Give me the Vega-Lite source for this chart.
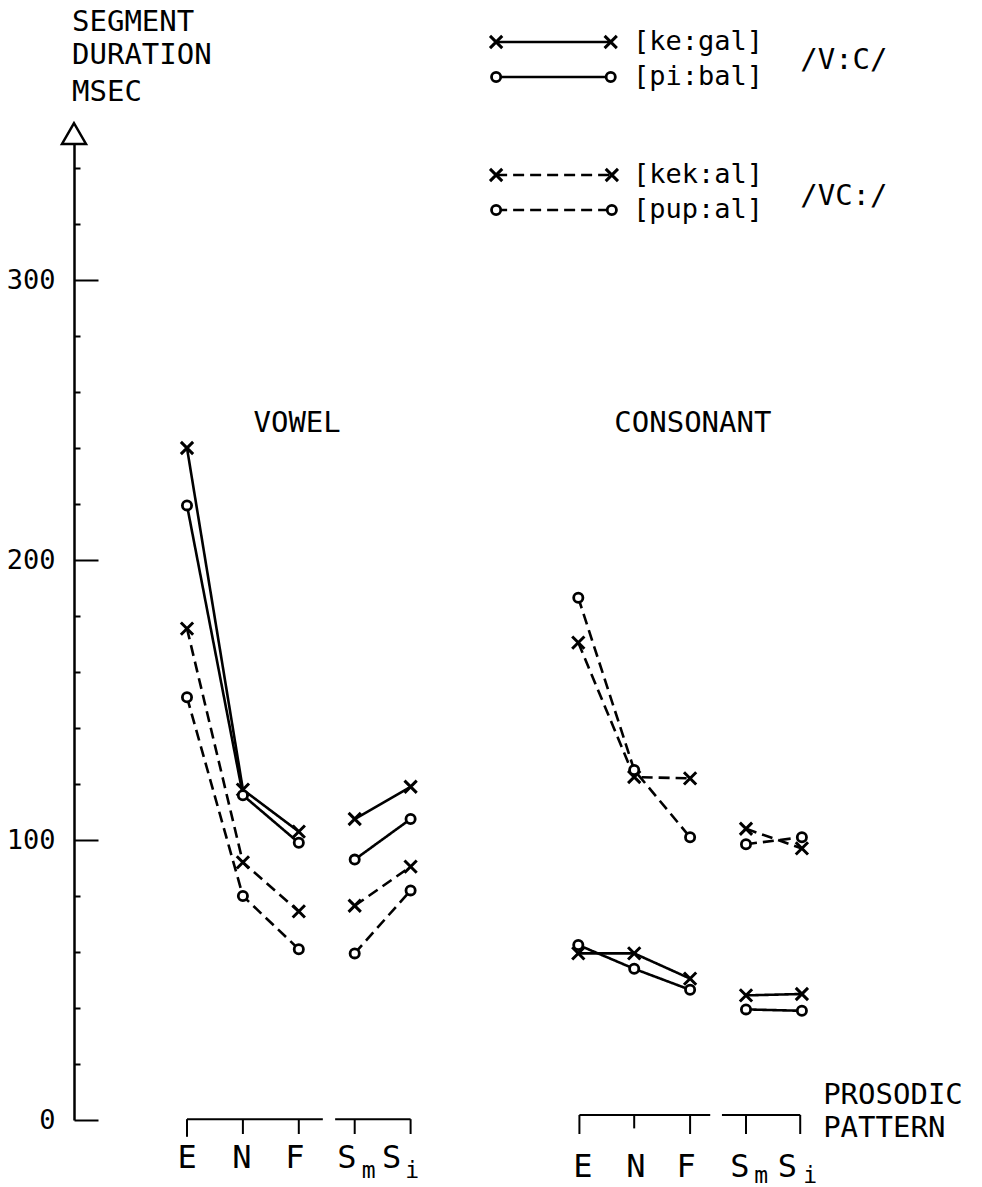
{
  "$schema": "https://vega.github.io/schema/vega-lite/v6.json",
  "width": 908,
  "height": 980,
  "autosize": "none",
  "padding": {"left": 74, "top": 140, "right": 0, "bottom": 67},
  "background": "white",
  "config": {"view": {"stroke": null}, "font": "DejaVu Sans Mono"},
  "datasets": {
    "lines": [
      {"word": "ke:gal", "seg": "V1", "pos": 1, "ms": 240},
      {"word": "ke:gal", "seg": "V1", "pos": 2, "ms": 118},
      {"word": "ke:gal", "seg": "V1", "pos": 3, "ms": 103},
      {"word": "ke:gal", "seg": "V2", "pos": 4, "ms": 107.5},
      {"word": "ke:gal", "seg": "V2", "pos": 5, "ms": 119},
      {"word": "pi:bal", "seg": "V1", "pos": 1, "ms": 219.5},
      {"word": "pi:bal", "seg": "V1", "pos": 2, "ms": 116},
      {"word": "pi:bal", "seg": "V1", "pos": 3, "ms": 99},
      {"word": "pi:bal", "seg": "V2", "pos": 4, "ms": 93},
      {"word": "pi:bal", "seg": "V2", "pos": 5, "ms": 107.5},
      {"word": "kek:al", "seg": "V1", "pos": 1, "ms": 175.5},
      {"word": "kek:al", "seg": "V1", "pos": 2, "ms": 92},
      {"word": "kek:al", "seg": "V1", "pos": 3, "ms": 74.5},
      {"word": "kek:al", "seg": "V2", "pos": 4, "ms": 76.5},
      {"word": "kek:al", "seg": "V2", "pos": 5, "ms": 90.5},
      {"word": "pup:al", "seg": "V1", "pos": 1, "ms": 151},
      {"word": "pup:al", "seg": "V1", "pos": 2, "ms": 80},
      {"word": "pup:al", "seg": "V1", "pos": 3, "ms": 61},
      {"word": "pup:al", "seg": "V2", "pos": 4, "ms": 59.5},
      {"word": "pup:al", "seg": "V2", "pos": 5, "ms": 82},
      {"word": "ke:gal", "seg": "C1", "pos": 8, "ms": 59.5},
      {"word": "ke:gal", "seg": "C1", "pos": 9, "ms": 59.5},
      {"word": "ke:gal", "seg": "C1", "pos": 10, "ms": 50.5},
      {"word": "ke:gal", "seg": "C2", "pos": 11, "ms": 44.5},
      {"word": "ke:gal", "seg": "C2", "pos": 12, "ms": 45},
      {"word": "pi:bal", "seg": "C1", "pos": 8, "ms": 62.5},
      {"word": "pi:bal", "seg": "C1", "pos": 9, "ms": 54},
      {"word": "pi:bal", "seg": "C1", "pos": 10, "ms": 46.5},
      {"word": "pi:bal", "seg": "C2", "pos": 11, "ms": 39.5},
      {"word": "pi:bal", "seg": "C2", "pos": 12, "ms": 39},
      {"word": "kek:al", "seg": "C1", "pos": 8, "ms": 170.5},
      {"word": "kek:al", "seg": "C1", "pos": 9, "ms": 122.5},
      {"word": "kek:al", "seg": "C1", "pos": 10, "ms": 122},
      {"word": "kek:al", "seg": "C2", "pos": 11, "ms": 104},
      {"word": "kek:al", "seg": "C2", "pos": 12, "ms": 97},
      {"word": "pup:al", "seg": "C1", "pos": 8, "ms": 186.5},
      {"word": "pup:al", "seg": "C1", "pos": 9, "ms": 125},
      {"word": "pup:al", "seg": "C1", "pos": 10, "ms": 101},
      {"word": "pup:al", "seg": "C2", "pos": 11, "ms": 98.5},
      {"word": "pup:al", "seg": "C2", "pos": 12, "ms": 101},
      {"word": "ke:gal", "seg": "L", "pos": 6.53, "ms": 385},
      {"word": "ke:gal", "seg": "L", "pos": 8.58, "ms": 385},
      {"word": "pi:bal", "seg": "L", "pos": 6.53, "ms": 372.5},
      {"word": "pi:bal", "seg": "L", "pos": 8.58, "ms": 372.5},
      {"word": "kek:al", "seg": "L", "pos": 6.53, "ms": 337.5},
      {"word": "kek:al", "seg": "L", "pos": 8.6, "ms": 337.5},
      {"word": "pup:al", "seg": "L", "pos": 6.53, "ms": 325},
      {"word": "pup:al", "seg": "L", "pos": 8.6, "ms": 325}
    ],
    "arrow": [{"pos": -1.0215, "ms": 352.3}],
    "brackets": [
      {"pos": 1.0, "pos2": 3.43, "ms": 0.3},
      {"pos": 3.65, "pos2": 5.0, "ms": 0.3},
      {"pos": 8.02, "pos2": 10.36, "ms": 1.8},
      {"pos": 10.57, "pos2": 11.97, "ms": 1.8}
    ],
    "bticks": [
      {"pos": 1, "ms": 0.3, "ms2": -6},
      {"pos": 2, "ms": 0.3, "ms2": -5},
      {"pos": 3, "ms": 0.3, "ms2": -5},
      {"pos": 4, "ms": 0.3, "ms2": -5},
      {"pos": 5, "ms": 0.3, "ms2": -5},
      {"pos": 8.02, "ms": 1.8, "ms2": -5},
      {"pos": 9, "ms": 1.8, "ms2": -3},
      {"pos": 10, "ms": 1.8, "ms2": -5},
      {"pos": 11, "ms": 1.8, "ms2": -5},
      {"pos": 11.97, "ms": 1.8, "ms2": -5}
    ],
    "ticklabels": [
      {"text": "E", "pos": 1.0, "ms": -13.6},
      {"text": "N", "pos": 1.98, "ms": -13.6},
      {"text": "F", "pos": 2.93, "ms": -13.6},
      {"text": "S", "pos": 3.86, "ms": -13.6},
      {"text": "S", "pos": 4.66, "ms": -13.6},
      {"text": "E", "pos": 8.08, "ms": -16.8},
      {"text": "N", "pos": 9.03, "ms": -16.8},
      {"text": "F", "pos": 9.93, "ms": -16.8},
      {"text": "S", "pos": 10.89, "ms": -16.8},
      {"text": "S", "pos": 11.74, "ms": -16.8}
    ],
    "subs": [
      {"text": "m", "pos": 4.25, "ms": -18.2},
      {"text": "i", "pos": 5.03, "ms": -18.2},
      {"text": "m", "pos": 11.27, "ms": -20},
      {"text": "i", "pos": 12.15, "ms": -20}
    ],
    "lefttext": [
      {"text": "SEGMENT", "pos": -1.057, "ms": 392.3},
      {"text": "DURATION", "pos": -1.057, "ms": 380.2},
      {"text": "MSEC", "pos": -1.057, "ms": 367.3},
      {"text": "PROSODIC", "pos": 12.38, "ms": 8.9},
      {"text": "PATTERN", "pos": 12.38, "ms": -2.9},
      {"text": "/V:C/", "pos": 11.97, "ms": 378.6},
      {"text": "/VC:/", "pos": 11.97, "ms": 330}
    ],
    "legendtext": [
      {"text": "[ke:gal]", "pos": 8.98, "ms": 385},
      {"text": "[pi:bal]", "pos": 8.98, "ms": 372.5},
      {"text": "[kek:al]", "pos": 8.98, "ms": 337.5},
      {"text": "[pup:al]", "pos": 8.98, "ms": 325}
    ],
    "groups": [
      {"text": "VOWEL", "pos": 2.97, "ms": 249},
      {"text": "CONSONANT", "pos": 10.05, "ms": 249}
    ]
  },
  "layer": [
    {
      "data": {"name": "lines"},
      "mark": {"type": "line", "color": "black", "strokeWidth": 2.6},
      "encoding": {
        "x": {"field": "pos", "type": "quantitative", "scale": {"domain": [-1.0215, 15.222], "nice": false, "zero": false}, "axis": null},
        "y": {
          "field": "ms", "type": "quantitative",
          "scale": {"domain": [0, 350], "nice": false, "zero": false},
          "axis": {
            "title": null, "grid": false,
            "values": [0, 20, 40, 60, 80, 100, 120, 140, 160, 180, 200, 220, 240, 260, 280, 300, 320, 340],
            "domainColor": "black", "domainWidth": 2.5,
            "tickColor": "black", "tickWidth": 2,
            "tickSize": {"condition": {"test": "datum.value % 100 === 0", "value": -24}, "value": -6},
            "labelExpr": "datum.value % 100 === 0 ? datum.label : ''",
            "labelFont": "DejaVu Sans Mono", "labelFontSize": 27, "labelColor": "black",
            "labelPadding": 43
          }
        },
        "detail": [{"field": "word"}, {"field": "seg"}],
        "order": {"field": "pos", "type": "quantitative"},
        "strokeDash": {
          "field": "word", "type": "nominal",
          "scale": {"domain": ["ke:gal", "pi:bal", "kek:al", "pup:al"], "range": [[1, 0], [1, 0], [11, 6], [11, 6]]},
          "legend": null
        }
      }
    },
    {
      "data": {"name": "lines"},
      "transform": [{"filter": "datum.word === 'ke:gal' || datum.word === 'kek:al'"}],
      "mark": {"type": "point", "shape": "M-1,-1L1,1M-1,1L1,-1", "filled": false, "stroke": "black", "strokeWidth": 3, "size": 150, "opacity": 1},
      "encoding": {
        "x": {"field": "pos", "type": "quantitative"},
        "y": {"field": "ms", "type": "quantitative"}
      }
    },
    {
      "data": {"name": "lines"},
      "transform": [{"filter": "datum.word === 'pi:bal' || datum.word === 'pup:al'"}],
      "mark": {"type": "point", "shape": "circle", "fill": "white", "stroke": "black", "strokeWidth": 2.8, "size": 85, "opacity": 1, "fillOpacity": 1},
      "encoding": {
        "x": {"field": "pos", "type": "quantitative"},
        "y": {"field": "ms", "type": "quantitative"}
      }
    },
    {
      "data": {"name": "arrow"},
      "mark": {"type": "point", "shape": "triangle-up", "fill": "white", "stroke": "black", "strokeWidth": 2.5, "size": 576, "opacity": 1, "fillOpacity": 1},
      "encoding": {
        "x": {"field": "pos", "type": "quantitative"},
        "y": {"field": "ms", "type": "quantitative"}
      }
    },
    {
      "data": {"name": "brackets"},
      "mark": {"type": "rule", "color": "black", "strokeWidth": 2},
      "encoding": {
        "x": {"field": "pos", "type": "quantitative"},
        "x2": {"field": "pos2"},
        "y": {"field": "ms", "type": "quantitative"}
      }
    },
    {
      "data": {"name": "bticks"},
      "mark": {"type": "rule", "color": "black", "strokeWidth": 2},
      "encoding": {
        "x": {"field": "pos", "type": "quantitative"},
        "y": {"field": "ms", "type": "quantitative"},
        "y2": {"field": "ms2"}
      }
    },
    {
      "data": {"name": "ticklabels"},
      "mark": {"type": "text", "font": "DejaVu Sans Mono", "fontSize": 32, "color": "black", "align": "center", "baseline": "middle"},
      "encoding": {
        "x": {"field": "pos", "type": "quantitative"},
        "y": {"field": "ms", "type": "quantitative"},
        "text": {"field": "text"}
      }
    },
    {
      "data": {"name": "subs"},
      "mark": {"type": "text", "font": "DejaVu Sans Mono", "fontSize": 23, "color": "black", "align": "center", "baseline": "middle"},
      "encoding": {
        "x": {"field": "pos", "type": "quantitative"},
        "y": {"field": "ms", "type": "quantitative"},
        "text": {"field": "text"}
      }
    },
    {
      "data": {"name": "lefttext"},
      "mark": {"type": "text", "font": "DejaVu Sans Mono", "fontSize": 29, "color": "black", "align": "left", "baseline": "middle"},
      "encoding": {
        "x": {"field": "pos", "type": "quantitative"},
        "y": {"field": "ms", "type": "quantitative"},
        "text": {"field": "text"}
      }
    },
    {
      "data": {"name": "legendtext"},
      "mark": {"type": "text", "font": "DejaVu Sans Mono", "fontSize": 27, "color": "black", "align": "left", "baseline": "middle"},
      "encoding": {
        "x": {"field": "pos", "type": "quantitative"},
        "y": {"field": "ms", "type": "quantitative"},
        "text": {"field": "text"}
      }
    },
    {
      "data": {"name": "groups"},
      "mark": {"type": "text", "font": "DejaVu Sans Mono", "fontSize": 29, "color": "black", "align": "center", "baseline": "middle"},
      "encoding": {
        "x": {"field": "pos", "type": "quantitative"},
        "y": {"field": "ms", "type": "quantitative"},
        "text": {"field": "text"}
      }
    }
  ]
}
